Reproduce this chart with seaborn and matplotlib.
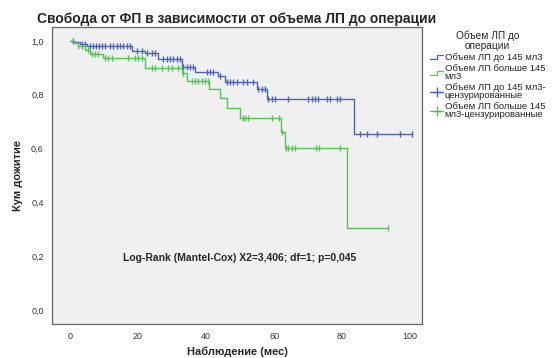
import matplotlib
matplotlib.use("Agg")
import matplotlib.pyplot as plt
from matplotlib.lines import Line2D
from matplotlib.legend_handler import HandlerBase
import numpy as np
import pandas as pd
import seaborn as sns

# ---- data ----
blue_t = [0, 1, 3, 5, 18.2, 22, 25.9, 32.9, 36.8, 43.5, 45.6, 55, 57.9, 83.5, 100.6]
blue_s = [1.0, 0.995, 0.988, 0.981, 0.963, 0.955, 0.932, 0.905, 0.886, 0.871, 0.849,
          0.820, 0.783, 0.654, 0.654]
blue_cens = [0.9, 3.5, 4.4, 5.9, 6.8, 7.6, 8.5, 9.4, 10.3, 11.8, 12.6, 13.8, 14.7, 15.6,
             16.8, 17.6, 19.7, 21.2, 22.6, 24.1, 25.0, 27.4, 28.5, 29.4, 30.3, 31.5,
             32.4, 33.2, 34.4, 35.3, 36.2, 40.3, 41.2, 42.1, 44.1, 46.2, 47.1, 47.9,
             49.1, 50.9, 52.1, 53.8, 55.3, 56.5, 57.4, 58.2, 59.4, 60.3, 64.1, 70.0,
             71.2, 72.1, 72.9, 75.6, 76.5, 78.5, 79.4, 85.3, 87.4, 90.3, 97.1, 100.6]

green_t = [0, 1.5, 2.4, 4.4, 5.9, 9.7, 22.1, 33.0, 34.4, 41.0, 44.1, 46.2, 50.0,
           62.0, 63.1, 81.3, 93.5]
green_s = [1.0, 0.991, 0.981, 0.967, 0.952, 0.938, 0.901, 0.880, 0.852, 0.820, 0.789,
           0.752, 0.715, 0.663, 0.601, 0.304, 0.304]
green_cens = [0.9, 2.4, 3.5, 5.3, 6.5, 7.4, 8.2, 10.3, 11.2, 12.4, 17.1, 19.1, 20.0,
              21.2, 24.1, 25.0, 27.1, 28.8, 30.0, 31.8, 33.2, 35.9, 36.8, 37.6, 38.8,
              39.7, 40.6, 50.9, 51.5, 52.4, 59.4, 61.5, 62.4, 63.5, 64.1, 65.3, 66.2,
              72.4, 73.2, 79.4, 93.5]

labels = ["Объем ЛП до 145 мл3", "Объем ЛП больше 145\nмл3",
          "Объем ЛП до 145 мл3-\nцензурированные",
          "Объем ЛП больше 145\nмл3-цензурированные"]
yticks = [0.0, 0.2, 0.4, 0.6, 0.8, 1.0]
xticks = [0, 20, 40, 60, 80, 100]

BLUE = "#4a64bc"
GREEN = "#52c552"

sns.set_style("white")
plt.rcParams["font.family"] = ["Liberation Sans", "DejaVu Sans"]

fig = plt.figure(figsize=(5.58, 3.58), dpi=100)
ax = fig.add_axes([52 / 558, 34 / 358, 370 / 558, 297 / 358])
ax.set_facecolor("#f0f0f0")


def step_val(ts, ss, x):
    i = np.searchsorted(ts, x, side="right") - 1
    return ss[max(i, 0)]


df_b = pd.DataFrame({"t": blue_t, "s": blue_s})
df_g = pd.DataFrame({"t": green_t, "s": green_s})
cb = pd.DataFrame({"t": blue_cens, "s": [step_val(blue_t, blue_s, c) for c in blue_cens]})
cg = pd.DataFrame({"t": green_cens, "s": [step_val(green_t, green_s, c) for c in green_cens]})

sns.lineplot(data=df_b, x="t", y="s", ax=ax, color=BLUE, lw=1.0,
             drawstyle="steps-post", estimator=None, sort=False)
sns.lineplot(data=df_g, x="t", y="s", ax=ax, color=GREEN, lw=1.0,
             drawstyle="steps-post", estimator=None, sort=False)
sns.scatterplot(data=cb, x="t", y="s", ax=ax, color=BLUE, marker="|", s=22,
                linewidth=1.0)
sns.scatterplot(data=cg, x="t", y="s", ax=ax, color=GREEN, marker="|", s=22,
                linewidth=1.0)

ax.set_xlim(-5.3, 103.5)
ax.set_ylim(-0.052, 1.052)
ax.set_xticks(xticks)
ax.set_yticks(yticks)
ax.set_xticklabels([str(x) for x in xticks])
ax.set_yticklabels([f"{y:.1f}".replace(".", ",") for y in yticks])
ax.tick_params(axis="both", direction="out", length=4, width=0.8, color="#444444",
               labelsize=6.5, labelcolor="#333333", pad=2)
for sp in ax.spines.values():
    sp.set_color("#666666")
    sp.set_linewidth(0.9)

ax.set_xlabel("Наблюдение (мес)", fontsize=8, fontweight="bold", labelpad=4)
ax.set_ylabel("Кум дожитие", fontsize=8, fontweight="bold", labelpad=6)
ax.set_title("Свобода от ФП в зависимости от объема ЛП до операции",
             fontsize=10, fontweight="bold", pad=3)

ax.text(50, 0.193, "Log-Rank (Mantel-Cox) X2=3,406; df=1; p=0,045",
        ha="center", va="center", fontsize=7.5, fontweight="bold")


class StepHandler(HandlerBase):
    def __init__(self, color):
        super().__init__()
        self.color = color

    def create_artists(self, legend, orig_handle, xdescent, ydescent, width,
                       height, fontsize, trans):
        x0, x1 = -xdescent, -xdescent + width
        xm = x0 + width * 0.5
        yl, yh = -ydescent + height * 0.2, -ydescent + height * 0.8
        ln = Line2D([x0, xm, xm, x1], [yl, yl, yh, yh], color=self.color, lw=0.9,
                    transform=trans)
        return [ln]


h1 = Line2D([], [], color=BLUE)
h2 = Line2D([], [], color=GREEN, ls="-")
h2.set_label("g")
h3 = Line2D([], [], color=BLUE, marker="+", markersize=7, lw=0.9)
h4 = Line2D([], [], color=GREEN, marker="+", markersize=7, lw=0.9)

leg = fig.legend([h1, h2, h3, h4], labels, loc="upper left",
                 bbox_to_anchor=(430 / 558, 1 - 31 / 358), frameon=False,
                 fontsize=6.8, title="Объем ЛП до\nоперации", title_fontsize=7.3,
                 handlelength=1.4, handletextpad=0.15, labelspacing=0.2,
                 borderaxespad=0, borderpad=0,
                 handler_map={h1: StepHandler(BLUE), h2: StepHandler(GREEN)})
leg.get_title().set_multialignment("center")
leg.get_title().set_linespacing(1.0)
for t in leg.get_texts():
    t.set_linespacing(0.85)

fig.savefig("out.png", dpi=100)
